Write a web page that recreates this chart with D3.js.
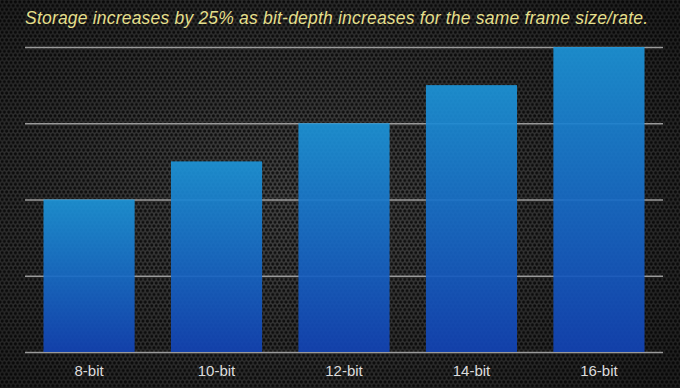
<!DOCTYPE html>
<html>
<head>
<meta charset="utf-8">
<script src="https://cdn.jsdelivr.net/npm/d3@7"></script>
<style>
  html, body { margin: 0; padding: 0; background: #1b1b1b; }
  svg { display: block; }
</style>
</head>
<body>
<div id="chart"></div>
<script>
// data
var categories = ["8-bit", "10-bit", "12-bit", "14-bit", "16-bit"];
var storage = [8, 10, 12, 14, 16];
var gridTicks = [0, 4, 8, 12, 16];
var title = "Storage increases by 25% as bit-depth increases for the same frame size/rate.";

var W = 680, H = 388;
var margin = {top: 47, right: 17, bottom: 36, left: 25},
    width = W - margin.left - margin.right,
    height = H - margin.top - margin.bottom;

var svg = d3.select("#chart").append("svg")
    .attr("width", W)
    .attr("height", H);

var defs = svg.append("defs");

// perforated metal background
var pat = defs.append("pattern")
    .attr("id", "holes")
    .attr("patternUnits", "userSpaceOnUse")
    .attr("width", 4.4)
    .attr("height", 7.6);
pat.append("rect").attr("width", 4.4).attr("height", 7.6).attr("fill", "#484848");
[[2.2, 1.9], [0, 5.7], [4.4, 5.7]].forEach(function(p) {
  pat.append("circle").attr("cx", p[0]).attr("cy", p[1]).attr("r", 1.6).attr("fill", "#111");
});

var vign = defs.append("radialGradient")
    .attr("id", "vignette")
    .attr("cx", "45%").attr("cy", "50%").attr("r", "70%");
vign.append("stop").attr("offset", "0%").attr("stop-color", "#000").attr("stop-opacity", 0.0);
vign.append("stop").attr("offset", "100%").attr("stop-color", "#000").attr("stop-opacity", 0.55);

// per-bar vertical gradient
var barGrad = defs.append("linearGradient")
    .attr("id", "barGrad")
    .attr("x1", 0).attr("y1", 0)
    .attr("x2", 0).attr("y2", 1);
barGrad.append("stop").attr("offset", "0%").attr("stop-color", "#1c94d8");
barGrad.append("stop").attr("offset", "100%").attr("stop-color", "#1243b5");

svg.append("rect").attr("width", W).attr("height", H).attr("fill", "url(#holes)");
svg.append("rect").attr("width", W).attr("height", H).attr("fill", "url(#vignette)");

// title
svg.append("text")
    .attr("x", margin.left)
    .attr("y", 24)
    .attr("fill", "#e4df8a")
    .attr("textLength", 623)
    .attr("lengthAdjust", "spacing")
    .style("font-family", "'Liberation Sans', Arial, Helvetica, sans-serif")
    .style("font-style", "italic")
    .style("font-size", "17.5px")
    .text(title);

var g = svg.append("g")
    .attr("transform", "translate(" + margin.left + "," + margin.top + ")");

var x = d3.scaleBand()
    .domain(categories)
    .range([0, width])
    .paddingInner(0.285)
    .paddingOuter(0.145);

var y = d3.scaleLinear()
    .domain([0, 16])
    .range([height, 0]);

// gridlines
var yAxis = d3.axisLeft(y)
    .tickValues(gridTicks)
    .tickSize(-width)
    .tickFormat("");
var gy = g.append("g").attr("class", "grid").call(yAxis);
gy.select(".domain").remove();
gy.selectAll(".tick line")
    .attr("stroke", "#9a9a9a")
    .attr("stroke-width", 1.5);

// bars
g.selectAll("rect.bar")
    .data(storage)
  .enter().append("rect")
    .attr("class", "bar")
    .attr("x", function(d, i) { return x(categories[i]); })
    .attr("y", function(d) { return y(d); })
    .attr("width", x.bandwidth())
    .attr("height", function(d) { return height - y(d); })
    .attr("fill", "url(#barGrad)")
    .attr("fill-opacity", 0.92);

// x axis labels
var xAxis = d3.axisBottom(x).tickSize(0).tickPadding(13);
var gx = g.append("g")
    .attr("transform", "translate(0," + height + ")")
    .call(xAxis);
gx.select(".domain").remove();
gx.selectAll("text")
    .attr("fill", "#dcdcdc")
    .style("font-family", "'Liberation Sans', Arial, Helvetica, sans-serif")
    .style("font-size", "15px");
</script>
</body>
</html>
